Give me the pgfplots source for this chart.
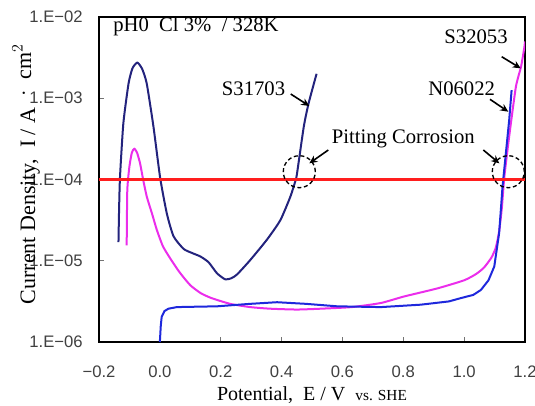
\documentclass[border=0pt]{standalone}
\usepackage{fontspec}
\setmainfont{Liberation Serif}
\setsansfont{Liberation Sans}
\usepackage{pgfplots}
\pgfplotsset{compat=1.18}
\usetikzlibrary{arrows.meta}
\definecolor{navyc}{RGB}{35,35,125}
\definecolor{magc}{RGB}{235,45,235}
\definecolor{bluec}{RGB}{30,40,220}
\definecolor{redc}{RGB}{255,30,30}
\begin{document}
\begin{tikzpicture}
\begin{axis}[
  scale only axis, width=319.5pt, height=243.75pt,
  at={(0,0)}, anchor=south west,
  xmin=-0.2, xmax=1.2, ymode=log, ymin=1e-6, ymax=1e-2,
  xtick={-0.2,0,0.2,0.4,0.6,0.8,1.0,1.2},
  xticklabels={−0.2,0.0,0.2,0.4,0.6,0.8,1.0,1.2},
  ytick={1e-6,1e-5,1e-4,1e-3,1e-2},
  yticklabels={1.E−06,1.E−05,1.E−04,1.E−03,1.E−02},
  yminorticks=false,
  tick pos=left, tick align=inside, major tick length=3.5pt,
  tick style={black!55, line width=0.7pt},
  axis line style={black, line width=1pt},
  ticklabel style={font=\sffamily\fontsize{12.5}{14}\selectfont, text=black!75},
  xticklabel style={anchor=base, yshift=-26.25pt},
  yticklabel style={inner sep=0pt, xshift=-12pt},
  xlabel={Potential,\ \ E / V\ \ {\fontsize{11.5}{13}\selectfont vs. SHE}},
  xlabel style={at={(axis description cs:0.5,-0.180)}, anchor=base, font=\fontsize{15}{17}\selectfont},
  ylabel={Current Density,\ \ I / A\ \ \raisebox{4pt}{$\cdot$}\ \ \raisebox{3pt}{cm$^{2}$}},
  ylabel style={at={(axis description cs:-0.1502,0.517)}, anchor=base, rotate=0, font=\fontsize{16.5}{18}\selectfont},
  every axis plot/.append style={line join=round},
]
% S31703
\addplot[navyc, line width=1.5pt, smooth, tension=0.35] coordinates {
(-0.136,1.70e-5) (-0.134,4.27e-5) (-0.131,1.07e-4) (-0.120,4.90e-4) (-0.103,1.51e-3)
(-0.090,2.34e-3) (-0.074,2.75e-3) (-0.058,2.29e-3) (-0.043,1.51e-3) (-0.021,4.47e-4)
(0.001,1.05e-4) (0.023,3.80e-5) (0.045,2.00e-5) (0.078,1.40e-5) (0.105,1.25e-5)
(0.133,1.13e-5) (0.160,9.6e-6) (0.188,7.0e-6) (0.215,5.9e-6) (0.235,6.1e-6)
(0.254,6.8e-6) (0.297,1.02e-5) (0.352,1.82e-5) (0.396,3.16e-5) (0.429,6.17e-5)
(0.446,9.77e-5) (0.451,1.20e-4) (0.473,4.47e-4) (0.489,8.71e-4) (0.515,2.0e-3)
};
% S32053
\addplot[magc, line width=1.5pt, smooth, tension=0.35] coordinates {
(-0.109,1.55e-5) (-0.107,7.4e-5) (-0.100,1.45e-4) (-0.092,2.14e-4) (-0.084,2.40e-4)
(-0.075,2.14e-4) (-0.065,1.58e-4) (-0.055,1.0e-4) (-0.043,6.17e-5) (-0.025,3.72e-5)
(-0.010,2.40e-5) (0.010,1.51e-5) (0.034,1.07e-5) (0.065,7.2e-6) (0.100,5.0e-6)
(0.135,3.98e-6) (0.170,3.47e-6) (0.231,2.95e-6) (0.297,2.69e-6) (0.363,2.57e-6)
(0.450,2.51e-6) (0.528,2.57e-6) (0.630,2.69e-6) (0.726,3.02e-6) (0.802,3.63e-6)
(0.912,4.57e-6) (1.000,5.75e-6) (1.040,6.9e-6) (1.066,8.3e-6) (1.090,1.10e-5)
(1.104,1.45e-5) (1.115,2.3e-5) (1.124,4.5e-5) (1.132,1.07e-4) (1.148,3.39e-4)
(1.170,1.38e-3) (1.187,2.45e-3) (1.198,4.27e-3) (1.200,5.0e-3)
};
% N06022
\addplot[bluec, line width=1.5pt] coordinates {
(0.000,1.0e-6) (0.003,1.58e-6) (0.006,2.04e-6) (0.015,2.4e-6) (0.028,2.57e-6)
(0.056,2.69e-6) (0.120,2.72e-6) (0.188,2.75e-6) (0.297,2.95e-6) (0.385,3.09e-6)
(0.480,2.95e-6) (0.583,2.75e-6) (0.726,2.69e-6) (0.857,2.88e-6) (0.950,3.16e-6)
(0.989,3.47e-6) (1.030,3.8e-6) (1.055,4.37e-6) (1.080,5.75e-6) (1.099,8.5e-6)
(1.115,2.19e-5) (1.123,5.6e-5) (1.126,8.1e-5) (1.137,2.09e-4) (1.148,5.37e-4)
(1.156,1.26e-3)
};
% pitting threshold
\addplot[redc, line width=2.2pt] coordinates {(-0.2,1e-4) (1.2,1e-4)};
% annotations
\node[anchor=base west, font=\fontsize{15.5}{17}\selectfont, inner sep=0pt] at (rel axis cs:0.0329,0.954) {pH0\hspace{0.5em}Cl 3\%\hspace{0.5em}/ 328K};
\node[font=\fontsize{15.5}{17}\selectfont, inner sep=0pt] at (rel axis cs:0.3627,0.7785) {S31703};
\node[font=\fontsize{15.5}{17}\selectfont, inner sep=0pt] at (rel axis cs:0.885,0.9385) {S32053};
\node[font=\fontsize{15.5}{17}\selectfont, inner sep=0pt] at (rel axis cs:0.8514,0.7785) {N06022};
\node[font=\fontsize{15.5}{17}\selectfont, inner sep=0pt] at (rel axis cs:0.7143,0.6246) {Pitting Corrosion};
\draw[black, line width=1.2pt, -{Stealth[length=6pt,width=5.5pt]}] (rel axis cs:0.45,0.7631) -- (rel axis cs:0.4937,0.7262);
\draw[black, line width=1.2pt, -{Stealth[length=6pt,width=5.5pt]}] (rel axis cs:0.9453,0.8778) -- (rel axis cs:0.9899,0.8421);
\draw[black, line width=1.2pt, -{Stealth[length=6pt,width=5.5pt]}] (rel axis cs:0.9178,0.7468) -- (rel axis cs:0.9608,0.7086);
\draw[black, line width=1.2pt, -{Stealth[length=6pt,width=5.5pt]}] (rel axis cs:0.5383,0.5908) -- (rel axis cs:0.4937,0.5498);
\draw[black, line width=1.2pt, -{Stealth[length=6pt,width=5.5pt]}] (rel axis cs:0.9021,0.5908) -- (rel axis cs:0.9397,0.5498);
\draw[black, line width=1pt, dash pattern=on 3pt off 2pt] (rel axis cs:0.4702,0.524) circle[radius=12pt];
\draw[black, line width=1pt, dash pattern=on 3pt off 2pt] (rel axis cs:0.9608,0.524) circle[radius=12pt];
\end{axis}
\pgfresetboundingbox
\path[use as bounding box] (-74.25pt,-47.25pt) rectangle (327pt,256.5pt);
\end{tikzpicture}
\end{document}
